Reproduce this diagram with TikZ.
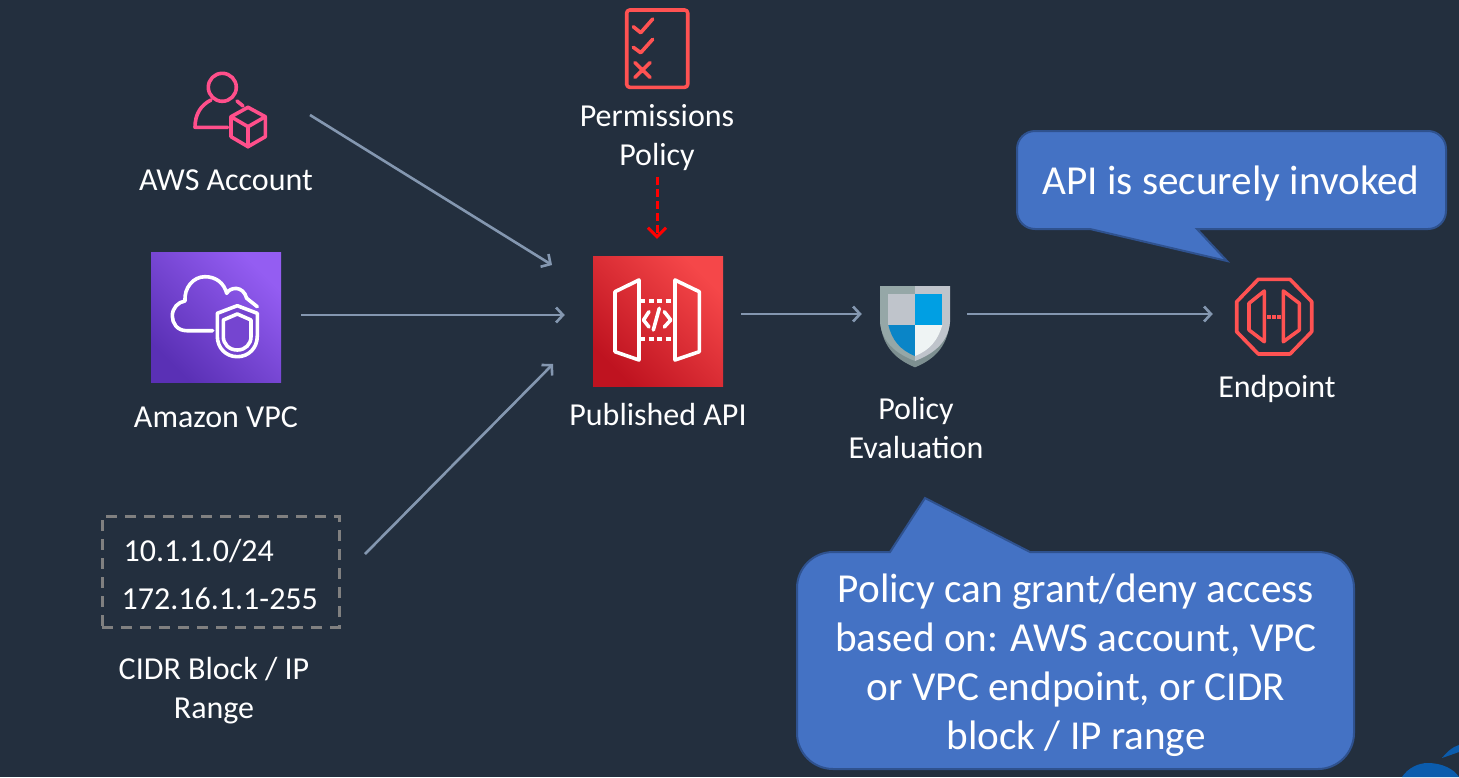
\documentclass[tikz,border=0pt]{standalone}
\usepackage{fontspec}
\setmainfont{Carlito}
\usetikzlibrary{arrows.meta}

\definecolor{slatebg}{HTML}{232F3E}
\definecolor{flowgray}{HTML}{8497B0}
\definecolor{noteblue}{HTML}{4472C4}
\definecolor{noteedge}{HTML}{2F528F}
\definecolor{awspink}{HTML}{FF4F8B}
\definecolor{awsred}{HTML}{FF5252}
\definecolor{vpclow}{HTML}{5A30B5}
\definecolor{vpcmid}{HTML}{7545D0}
\definecolor{vpchigh}{HTML}{945DF2}
\definecolor{apilow}{HTML}{BF1320}
\definecolor{apihigh}{HTML}{F54749}
\definecolor{cornerblue}{HTML}{0B5CAD}
\definecolor{shieldshadow}{HTML}{7D8F90}
\definecolor{shieldleft}{HTML}{95A7A7}
\definecolor{shieldright}{HTML}{BFC4CB}
\definecolor{shieldsky}{HTML}{009FE3}
\definecolor{shieldsea}{HTML}{0A85C7}
\definecolor{shieldpale}{HTML}{EFF4F4}

\tikzset{
  lbl/.style={text=white,align=center,inner sep=0pt,font=\fontsize{32}{39}\selectfont},
  notelbl/.style={text=white,align=center,inner sep=0pt,font=\fontsize{41.2}{49}\selectfont},
  iconbox/.style={minimum size=#1,inner sep=0pt},
  flow/.style={draw=flowgray,line width=2.6pt,-{Straight Barb[length=7pt,width=15pt,line width=2.6pt]}},
  callout/.style={fill=noteblue,draw=noteedge,line width=2pt},
  glyph/.style={line width=3.6pt,line join=round,line cap=round}
}

\begin{document}
\begin{tikzpicture}[x=1pt,y=-1pt]

\fill[slatebg] (0,0) rectangle (1459,777);
\useasboundingbox (0,0) rectangle (1459,777);

% corner of the backdrop
\fill[cornerblue] (1402,777) .. controls (1408,768) and (1418,763) .. (1428,763) .. controls (1442,763) and (1454,769) .. (1459,777) -- cycle;
\fill[cornerblue] (1442,758) .. controls (1447,752) and (1452,747) .. (1459,745) -- (1459,752) -- cycle;

% icons
\node[iconbox=80pt] (accountIcon) at (230,110) {};
\node[iconbox=130pt,bottom color=vpclow,top color=vpchigh,shading angle=-45] (vpcIcon) at (216,317) {};
\node[iconbox=80pt] (permIcon) at (657,48) {};
\node[iconbox=130pt,bottom color=apilow,top color=apihigh,shading angle=-45] (apiIcon) at (658,321) {};
\node[iconbox=70pt] (shieldIcon) at (915,314) {};
\node[iconbox=76pt] (endpointIcon) at (1274,314) {};

% labels
\node[lbl] (accountLbl) at (226,180) {AWS Account};
\node[lbl] (vpcLbl) at (216,417) {Amazon VPC};
\node[lbl] (permLbl) at (657,138) {Permissions\\Policy};
\node[lbl] (apiLbl) at (658,414) {Published API};
\node[lbl] (evalLbl) at (916,428) {Policy\\Evaluation};
\node[lbl] (endpointLbl) at (1277,389) {Endpoint};
\node[lbl] (cidrLbl) at (214,691) {CIDR Block / IP\\Range};

% address box
\node[draw=gray,dash pattern=on 11pt off 8pt,line width=3pt,minimum width=237pt,minimum height=111pt,inner sep=0pt] (cidrBox) at (220.5,571.5) {};
\node[lbl,anchor=west] (ipOne) at (123.5,551) {10.1.1.0/24};
\node[lbl,anchor=west] (ipTwo) at (121.5,599) {172.16.1.1-255};

% account glyph
\draw[awspink,glyph] (222.3,87.3) circle (14);
\draw[awspink,glyph] (227.7,127.3) -- (195,127.3) .. controls (195,114) and (201,105) .. (211,100);
\draw[awspink,glyph] (237,101) -- (243,106);
\draw[awspink,glyph] (248,107.3) -- (265.3,116.7) -- (265.3,136.7) -- (248,146.7) -- (231,136.7) -- (231,116.7) -- cycle;
\draw[awspink,glyph] (231,116.7) -- (248,126.7) -- (265.3,116.7) (248,126.7) -- (248,146.7);

% vpc glyph
\draw[white,glyph] (212.7,330.7) -- (186.7,330.7) .. controls (177,330.7) and (172.3,323) .. (172.3,316) .. controls (172.3,308) and (178,302) .. (185,301) .. controls (184,288) and (193,276.7) .. (205,276.7) .. controls (216,276.7) and (224,283) .. (226.7,293.3) .. controls (230,287) and (243,285) .. (246.7,298.3) -- (257.3,306.7);
\draw[white,glyph,fill=vpcmid] (237.3,305.7) -- (217.3,313.3) -- (217.3,336) .. controls (217.3,348) and (226,356.7) .. (237.3,356.7) .. controls (248.6,356.7) and (257.3,348) .. (257.3,336) -- (257.3,313.3) -- cycle;
\draw[white,glyph] (237.3,314) -- (223.3,320) -- (223.3,336.7) .. controls (223.3,344) and (229,350) .. (237.3,350) .. controls (245.6,350) and (251,344) .. (251,336.7) -- (251,320) -- cycle;

% checklist glyph
\draw[awsred,glyph,rounded corners=3pt] (626.7,10) rectangle (687.7,87.3);
\draw[awsred,glyph] (633.3,26.7) -- (640.7,32.7) -- (652.7,19);
\draw[awsred,glyph] (633.3,47.3) -- (640.7,52.7) -- (652.7,39.3);
\draw[awsred,glyph] (635,62.7) -- (650,77.3) (650,62.7) -- (635,77.3);

% gateway glyph
\draw[white,glyph] (639,280) -- (615,291.7) -- (615,351.7) -- (639,360) -- cycle;
\draw[white,glyph] (675,280) -- (699.3,291.7) -- (699.3,351.7) -- (675,360) -- cycle;
\foreach \doty in {301,338.7}
  \draw[white,line width=3.6pt,dash pattern=on 5pt off 3.5pt] (640,\doty) -- (675,\doty);
\draw[white,glyph] (649,311.7) -- (643.5,320) -- (649,327);
\draw[white,glyph] (664.3,311.7) -- (670.7,320) -- (664.3,327);
\draw[white,glyph] (659.3,308.3) -- (653.3,330);

% shield glyph
\fill[shieldshadow] (880,320) .. controls (882,350) and (900,361) .. (915,367.3) .. controls (930,361) and (948,350) .. (950,320) -- cycle;
\fill[shieldleft] (880,286) -- (915,286) -- (915,361) .. controls (900,355) and (882,345) .. (880,322) -- cycle;
\fill[shieldright] (950,286) -- (915,286) -- (915,361) .. controls (930,355) and (948,345) .. (950,322) -- cycle;
\fill[shieldright] (888.3,294) rectangle (915,325);
\fill[shieldsky] (915,294) rectangle (942.3,325);
\fill[shieldsea] (888.3,325) .. controls (892,340) and (900,350) .. (915,356) -- (915,325) -- cycle;
\fill[shieldpale] (942.3,325) .. controls (938,340) and (930,350) .. (915,356) -- (915,325) -- cycle;

% endpoint glyph
\draw[awsred,glyph] (1258.3,279.3) -- (1290,279.3) -- (1311.7,301.7) -- (1311.7,331.7) -- (1290,354) -- (1258.3,354) -- (1236.7,331.7) -- (1236.7,301.7) -- cycle;
\draw[awsred,glyph] (1264.3,291) -- (1264.3,341.7) -- (1249,330) -- (1249,303.3) -- cycle;
\draw[awsred,glyph] (1283.3,291) -- (1283.3,341.7) -- (1299.3,330) -- (1299.3,303.3) -- cycle;
\foreach \dotx in {1269,1274,1279}
  \fill[awsred] (\dotx-2,314.7) rectangle (\dotx+2,318.7);

% connectors
\coordinate (accountOut) at (310,115);
\coordinate (apiTopIn) at (552,265);
\coordinate (cidrOut) at (365,554);
\coordinate (apiLowIn) at (553,364);
\coordinate (vpcOut) at (281,315);
\draw[flow] (accountOut) -- (apiTopIn);
\draw[flow] (cidrOut) -- (apiLowIn);
\draw[flow,shorten <=20pt,shorten >=28pt] (vpcOut) -- (vpcOut -| apiIcon.west);
\draw[flow,shorten <=18pt,shorten >=18pt] (apiIcon.east |- shieldIcon.west) -- (shieldIcon.west);
\draw[flow,shorten <=17pt,shorten >=23pt] (shieldIcon.east) -- (shieldIcon.east -| endpointIcon.west);
\draw[red,line width=3pt,dash pattern=on 8pt off 4pt,-{Straight Barb[length=9pt,width=18pt,line width=3pt]},shorten <=6pt,shorten >=17pt] (permLbl.south) -- (permLbl.south |- apiIcon.north);

% callouts
\draw[callout] (1227,261) -- (1197,229) [rounded corners=18pt] -- (1446,229) -- (1446,131) -- (1017,131) -- (1017,229) -- (1060,229) [sharp corners] -- (1090,229) -- cycle;
\node[notelbl] (invokeNote) at (1231,184) {API is securely invoked};
\draw[callout] (925,498) -- (890,552) [rounded corners=36pt] -- (797,552) -- (797,769) -- (1354,769) -- (1354,552) -- (1200,552) [sharp corners] -- (1030,552) -- cycle;
\node[notelbl] (policyNote) at (1076,665) {Policy can grant/deny access\\based on: AWS account, VPC\\or VPC endpoint, or CIDR\\block / IP range};

\end{tikzpicture}
\end{document}
